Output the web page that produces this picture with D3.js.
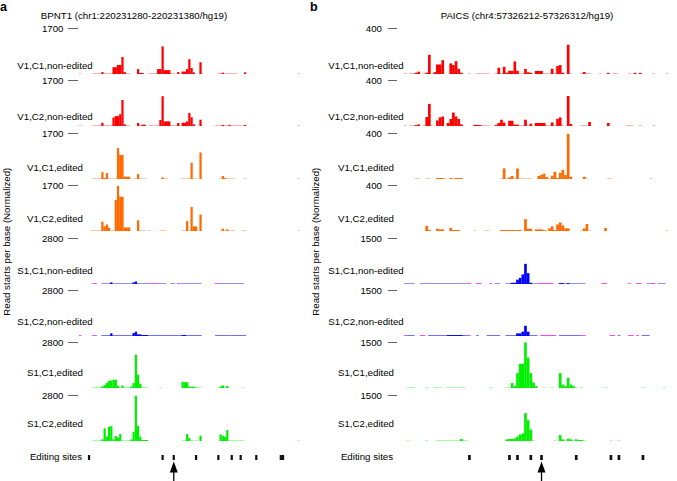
<!DOCTYPE html>
<html><head><meta charset="utf-8">
<script src="https://cdn.jsdelivr.net/npm/d3@7"></script>
<style>body{margin:0;background:#fff}svg{display:block}text{font-family:"Liberation Sans",Arial,Helvetica,sans-serif}</style>
</head><body>
<script>
// ---------------- DATA ----------------
const trackLabels = ["V1,C1,non-edited","V1,C2,non-edited","V1,C1,edited","V1,C2,edited",
                     "S1,C1,non-edited","S1,C2,non-edited","S1,C1,edited","S1,C2,edited"];
const titleA = "BPNT1 (chr1:220231280-220231380/hg19)";
const titleB = "PAICS (chr4:57326212-57326312/hg19)";
const scaleMaxA = [1700,1700,1700,1700,2800,2800,2800,2800];
const scaleMaxB = [400,400,400,400,1500,1500,1500,1500];
const yLabel = "Read starts per base (Normalized)";
const sitesLabel = "Editing sites";
const nBases = 100;

// intervals: [startBase, endBase, read starts]  (bases relative to window start)
const A_V1C1_ne = [[0,1,0],[6,10,0],[10,11,70],[11,13,30],[13,15,0],[15,17,250],[17,19,330],[19,20,620],[20,21,70],[21,23,10],[26,27,180],[27,29,40],[31,35,10],[35,37,180],[37,38,1010],[38,41,140],[41,43,10],[44,45,70],[46,48,90],[48,49,180],[49,50,540],[50,51,220],[51,52,60],[54,55,430],[62,64,10],[64,65,50],[65,71,15],[74,75,60],[98,99,0]];
const A_V1C2_ne = [[0,1,0],[6,10,0],[10,11,120],[11,15,25],[15,16,310],[16,18,360],[18,19,430],[19,20,950],[20,21,60],[21,23,10],[26,27,110],[27,28,20],[28,30,50],[31,36,15],[36,37,220],[37,38,1090],[38,41,170],[41,44,15],[44,45,110],[46,48,120],[48,49,170],[49,50,480],[50,51,320],[51,52,60],[54,55,230],[61,64,10],[64,65,40],[65,67,10],[67,68,40],[68,74,10],[74,75,40],[98,99,0]];
const A_V1C1_ed = [[6,10,0],[10,11,250],[11,12,36],[12,13,215],[13,17,20],[17,18,1130],[18,20,880],[20,23,85],[24,26,0],[26,27,180],[27,30,30],[37,38,60],[38,40,0],[46,49,0],[49,50,30],[50,51,590],[51,53,0],[54,55,970],[63,64,0],[64,65,110],[65,66,40],[66,70,0],[74,75,0],[98,99,0]];
const A_V1C2_ed = [[5,10,15],[10,11,340],[11,12,170],[12,13,240],[13,14,120],[14,16,10],[16,17,1130],[17,18,1650],[18,20,1250],[20,23,130],[26,27,390],[27,30,15],[31,32,10],[36,39,15],[46,48,15],[48,49,360],[49,50,15],[50,51,880],[51,53,170],[54,55,600],[63,64,10],[64,65,85],[65,66,20],[66,67,60],[67,70,0],[73,75,30],[98,99,0]];
const A_S1C1_ne = [[10,14,0],[14,15,100],[15,24,0],[24,25,100],[25,26,150],[26,28,40],[28,32,0],[35,39,0],[41,43,0],[45,46,0],[46,49,20],[49,55,0],[63,74,0]];
const A_S1C1_ne_alt = [[6,8],[32,35],[44,45],[61,63]];
const A_S1C2_ne = [[10,14,0],[14,15,160],[15,24,0],[24,25,180],[25,26,260],[26,28,100],[28,31,60],[31,46,0],[46,48,60],[48,55,0],[61,67,0],[67,68,40],[68,75,0]];
const A_S1C2_ne_alt = [[0,1],[6,8]];
const A_S1C1_ed = [[6,10,0],[10,11,100],[11,12,180],[12,13,300],[13,15,440],[15,17,500],[17,18,130],[18,19,50],[19,20,150],[20,23,0],[23,24,100],[24,25,300],[25,26,2000],[26,27,800],[27,28,260],[28,31,20],[36,37,0],[46,47,380],[47,49,350],[49,50,80],[50,52,80],[52,55,0],[63,64,100],[64,65,160],[65,66,40],[66,67,120],[73,74,0]];
const A_S1C2_ed = [[6,10,0],[10,11,100],[11,12,760],[12,13,260],[13,14,860],[14,15,900],[15,16,100],[16,17,300],[17,18,220],[18,19,420],[19,23,20],[23,24,100],[24,25,560],[25,26,2720],[26,27,900],[27,28,260],[28,31,60],[46,48,40],[48,49,420],[49,50,180],[50,53,40],[54,55,320],[63,64,400],[64,65,300],[65,66,260],[66,67,660],[67,72,20],[72,74,0],[98,99,0]];

const B_V1C1_ne = [[0,1,0],[2,4,0],[4,5,11],[5,6,20],[7,8,0],[8,9,11],[9,10,165],[11,12,15],[12,14,82],[14,15,119],[17,18,91],[18,19,77],[19,20,110],[20,21,45],[21,22,11],[24,25,0],[27,29,0],[29,32,5],[34,35,0],[35,36,54],[36,37,0],[37,38,62],[38,39,11],[39,41,28],[41,42,108],[42,43,28],[43,45,0],[45,46,43],[46,47,15],[47,48,11],[49,52,26],[52,55,0],[55,56,45],[56,57,0],[57,58,68],[58,59,77],[59,60,11],[61,62,252],[62,63,0],[66,67,0],[67,68,17],[68,70,0],[73,74,0],[76,77,10],[78,80,0],[84,85,0],[86,87,10],[88,89,10],[93,94,0],[98,99,0]];
const B_V1C2_ne = [[0,1,0],[2,4,0],[4,5,8],[5,6,14],[7,8,5],[8,9,77],[9,10,190],[10,11,5],[12,13,48],[13,14,74],[14,15,82],[16,17,26],[17,18,60],[18,19,116],[19,20,82],[20,21,60],[21,22,14],[26,28,10],[28,29,8],[29,32,5],[34,35,10],[35,36,26],[36,37,54],[37,38,30],[39,41,45],[41,43,12],[43,45,0],[45,46,54],[46,47,5],[47,48,20],[49,53,26],[53,55,5],[55,56,31],[56,57,0],[57,58,62],[58,59,74],[59,60,5],[61,62,258],[62,63,17],[66,69,0],[69,70,34],[76,77,26],[83,85,5],[85,86,5],[88,89,5],[93,94,0]];
const B_V1C1_ed = [[4,6,0],[8,10,0],[12,15,8],[15,16,0],[17,18,8],[18,19,0],[19,22,8],[36,37,0],[37,38,91],[38,39,0],[39,40,14],[40,41,26],[41,42,0],[42,43,91],[43,45,5],[45,48,0],[50,51,26],[51,52,37],[52,53,45],[53,54,17],[54,55,0],[55,56,28],[56,57,62],[57,58,8],[58,59,54],[59,60,79],[60,61,34],[61,62,388],[62,63,20],[67,68,20],[68,69,0],[76,78,0],[92,93,0]];
const B_V1C2_ed = [[8,9,45],[9,10,8],[12,13,20],[13,15,14],[17,18,28],[18,21,8],[26,27,5],[30,32,5],[36,44,8],[45,46,102],[46,48,20],[49,52,14],[52,53,8],[53,54,0],[54,55,23],[55,56,40],[56,57,8],[57,58,57],[58,59,74],[59,60,48],[60,62,23],[66,67,0],[67,68,23],[68,69,60],[69,70,5],[75,76,26],[98,99,0]];
const B_S1C1_ne = [[0,4,0],[6,12,0],[12,22,20],[22,24,0],[34,36,0],[38,40,0],[40,42,40],[42,43,140],[43,44,200],[44,45,310],[45,46,650],[46,47,350],[47,48,40],[48,50,0],[58,60,30],[60,61,10],[61,62,30],[62,68,0],[91,92,0],[95,98,0]];
const B_S1C1_ne_alt = [[24,25],[27,29],[32,33],[50,56],[74,76],[84,85],[87,89],[92,94]];
const B_S1C2_ne = [[1,4,0],[9,12,0],[12,16,0],[16,22,30],[22,24,0],[27,28,0],[31,36,0],[38,42,0],[42,44,85],[44,45,140],[45,46,330],[46,47,140],[47,48,15],[48,50,0],[58,66,0],[80,81,0],[89,92,0]];
const B_S1C2_ne_alt = [[0,1],[6,8],[24,25],[51,57],[66,68],[77,79],[84,86],[87,88]];
const B_S1C1_ed = [[1,4,0],[8,9,0],[11,14,0],[16,19,0],[20,23,0],[32,33,0],[38,40,0],[40,41,160],[41,42,60],[42,43,480],[43,45,780],[45,46,1470],[46,47,980],[47,48,480],[48,49,180],[49,50,60],[52,53,0],[55,56,0],[58,59,480],[59,60,110],[60,61,60],[61,62,330],[62,63,110],[63,64,60],[64,65,0],[66,67,0],[75,76,0],[89,90,0],[97,98,0]];
const B_S1C2_ed = [[1,2,0],[8,9,0],[12,14,10],[14,16,0],[16,21,25],[21,22,64],[22,23,25],[23,24,0],[38,39,54],[39,41,64],[41,42,85],[42,43,140],[43,44,210],[44,45,245],[45,46,900],[46,47,670],[47,48,370],[48,49,20],[56,57,0],[58,59,190],[59,60,54],[60,61,20],[61,62,75],[62,63,54],[63,64,20],[64,65,54],[65,67,30],[67,68,0],[77,78,0],[80,81,0]];

const sitesA = [4,37,42,52,62,68,72,79,90,91];
const sitesB = [24,39,42,47,51,64,77,80,89];
const arrowSiteA = 42, arrowSiteB = 51;

// ---------------- STYLE / LAYOUT ----------------
const W = 677, H = 481;
const mainColors  = ["#ff0000","#ff0000","#ff6a00","#ff6a00","#0000ff","#0000ff","#00f000","#00f000"];
const faintColors = ["#ffb0b0","#ffb0b0","#ffc8a0","#ffc8a0","#9090ff","#7070ff","#a0ffa0","#a0ffa0"];
const altColor = "#ff44ff";
const trackH = 46.5;
const baseY = i => Math.round(74 + 52.4 * i);
const labelY = i => 69.3 + 51.06 * i;
const FS = 9.7;

const panels = [
  {x0:79, x1:302, title:titleA, titleX:134, letter:"a", letterX:0, labelX:55, scaleTextX:63.5, dash:[68,78], yLabelX:6,
   maxes:scaleMaxA, sites:sitesA, arrow:arrowSiteA,
   tracks:[A_V1C1_ne,A_V1C2_ne,A_V1C1_ed,A_V1C2_ed,A_S1C1_ne,A_S1C2_ne,A_S1C1_ed,A_S1C2_ed],
   alts:[null,null,null,null,A_S1C1_ne_alt,A_S1C2_ne_alt,null,null]},
  {x0:404, x1:671, title:titleB, titleX:527, letter:"b", letterX:310, labelX:366, scaleTextX:382, dash:[388,397], yLabelX:315,
   maxes:scaleMaxB, sites:sitesB, arrow:arrowSiteB,
   tracks:[B_V1C1_ne,B_V1C2_ne,B_V1C1_ed,B_V1C2_ed,B_S1C1_ne,B_S1C2_ne,B_S1C1_ed,B_S1C2_ed],
   alts:[null,null,null,null,B_S1C1_ne_alt,B_S1C2_ne_alt,null,null]}
];

const svg = d3.select("body").append("svg").attr("width", W).attr("height", H);

panels.forEach(p => {
  const g = svg.append("g");
  const x = d3.scaleLinear().domain([0, nBases]).range([p.x0, p.x1]);

  g.append("text").attr("x", p.letterX).attr("y", 10.5).attr("font-size", 12.5)
    .attr("font-weight", "bold").text(p.letter);
  g.append("text").attr("x", p.titleX).attr("y", 18.5).attr("font-size", FS)
    .attr("text-anchor", "middle").text(p.title);
  g.append("text").attr("transform", `translate(${p.yLabelX},241.7) rotate(-90)`)
    .attr("font-size", FS).attr("text-anchor", "middle").attr("dominant-baseline", "central").text(yLabel);

  p.tracks.forEach((data, i) => {
    const b = baseY(i);
    const y = d3.scaleLinear().domain([0, p.maxes[i]]).range([b, b - trackH]);
    const tg = g.append("g");
    tg.append("g").selectAll("rect").data(data).join("rect")
      .attr("x", d => x(d[0])).attr("width", d => x(d[1]) - x(d[0]))
      .attr("y", b - 1).attr("height", 1).attr("fill", faintColors[i]);
    if (p.alts[i]) {
      tg.append("g").selectAll("rect").data(p.alts[i]).join("rect")
        .attr("x", d => x(d[0])).attr("width", d => x(d[1]) - x(d[0]))
        .attr("y", b - 1).attr("height", 1).attr("fill", altColor);
    }
    tg.append("g").selectAll("rect").data(data.filter(d => d[2] > 0 && b - y(d[2]) >= 0.9)).join("rect")
      .attr("x", d => x(d[0])).attr("width", d => x(d[1]) - x(d[0]))
      .attr("y", d => y(d[2])).attr("height", d => b - y(d[2])).attr("fill", mainColors[i]);
    const ty = Math.round(b - trackH) + 0.5;
    g.append("text").attr("x", p.scaleTextX).attr("y", ty + 3.4).attr("font-size", FS)
      .attr("text-anchor", "end").text(y.domain()[1]);
    g.append("line").attr("x1", p.dash[0]).attr("x2", p.dash[1]).attr("y1", ty).attr("y2", ty)
      .attr("stroke", "#666").attr("stroke-width", 1);
    g.append("text").attr("x", p.labelX).attr("y", labelY(i)).attr("font-size", FS)
      .attr("text-anchor", "middle").text(trackLabels[i]);
  });

  g.append("text").attr("x", p.labelX + 1).attr("y", 459.5).attr("font-size", FS)
    .attr("text-anchor", "middle").text(sitesLabel);
  g.append("g").selectAll("rect").data(p.sites).join("rect")
    .attr("x", d => x(d)).attr("width", d => x(d + 1) - x(d))
    .attr("y", 455).attr("height", 5).attr("fill", "#111");

  const ax = (x(p.arrow) + x(p.arrow + 1)) / 2;
  g.append("line").attr("x1", ax).attr("x2", ax).attr("y1", 470).attr("y2", 481)
    .attr("stroke", "#000").attr("stroke-width", 1.3);
  g.append("path").attr("d", `M${ax},461.5 L${ax-4},472.5 L${ax+4},472.5 Z`).attr("fill", "#000");
});
</script>
</body></html>
